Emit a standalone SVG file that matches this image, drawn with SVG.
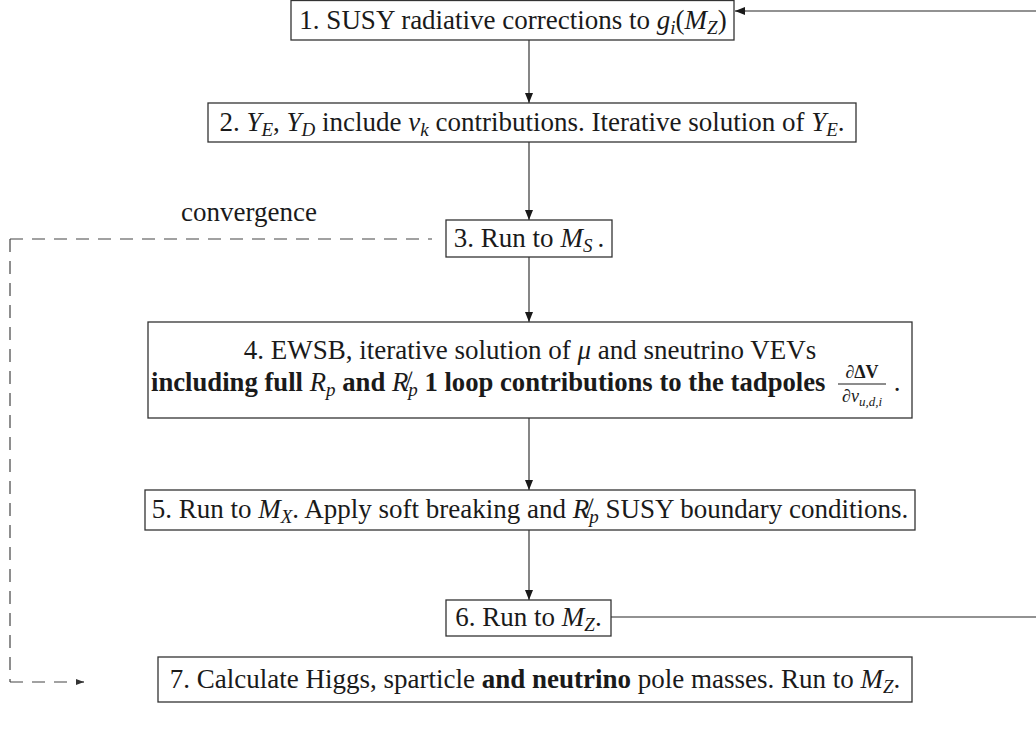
<svg xmlns="http://www.w3.org/2000/svg" width="1036" height="738" viewBox="0 0 1036 738">
<style>
  .box { fill: #ffffff; stroke: #333333; stroke-width: 1.3; }
  .t { font-family: "Liberation Serif", "Times New Roman", serif; font-size: 27px; fill: #1a1a1a; text-anchor: middle; }
  .it { font-style: italic; }
  .b { font-weight: bold; }
  .n { font-weight: normal; }
  .s { font-size: 19px; }
  .conn { stroke: #222222; stroke-width: 1.1; fill: none; }
  .grey { stroke: #6e6e6e; stroke-width: 1.6; fill: none; }
  .dash { stroke: #444444; stroke-width: 1.2; fill: none; stroke-dasharray: 13 9; }
  .lbl { font-family: "Liberation Serif", "Times New Roman", serif; font-size: 27px; fill: #1a1a1a; text-anchor: middle; }
</style>
<defs>
  <marker id="ah" markerUnits="userSpaceOnUse" markerWidth="12" markerHeight="10" refX="10" refY="4" orient="auto">
    <path d="M0,0 L10,4 L0,8 Z" fill="#1a1a1a"/>
  </marker>
  <marker id="ahd" markerUnits="userSpaceOnUse" markerWidth="10" markerHeight="8" refX="8" refY="3" orient="auto">
    <path d="M0,0 L8,3 L0,6 Z" fill="#333333"/>
  </marker>
</defs>
<rect width="1036" height="738" fill="#ffffff"/>

<g id="connectors">
  <line class="conn" x1="529" y1="40" x2="529" y2="103" marker-end="url(#ah)"/>
  <line class="conn" x1="529" y1="142" x2="529" y2="220" marker-end="url(#ah)"/>
  <line class="conn" x1="529" y1="257" x2="529" y2="322" marker-end="url(#ah)"/>
  <line class="conn" x1="529" y1="418" x2="529" y2="490" marker-end="url(#ah)"/>
  <line class="conn" x1="529" y1="530" x2="529" y2="600" marker-end="url(#ah)"/>
  <line class="grey" x1="611" y1="617" x2="1036" y2="617"/>
  <line class="grey" x1="1036" y1="11" x2="746" y2="11"/>
  <line class="conn" x1="746" y1="11" x2="735" y2="11" marker-end="url(#ah)"/>
  <path class="dash" d="M10,239 H432"/>
  <path class="dash" d="M10,239 V682"/>
  <path class="dash" d="M10,682 H73"/>
  <line class="conn" x1="76" y1="682" x2="84" y2="682" marker-end="url(#ahd)"/>
  <text class="lbl" x="249" y="221">convergence</text>
</g>

<g id="node1">
  <rect class="box" x="291" y="0.5" width="443" height="39.5"/>
  <text class="t" x="513" y="29">1. SUSY radiative corrections to <tspan class="it">g</tspan><tspan class="it s" dy="5">i</tspan><tspan dy="-5">(</tspan><tspan class="it">M</tspan><tspan class="it s" dy="5">Z</tspan><tspan dy="-5">)</tspan></text>
</g>

<g id="node2">
  <rect class="box" x="208" y="103" width="648" height="39"/>
  <text class="t" x="532" y="131">2. <tspan class="it">Y</tspan><tspan class="it s" dy="5">E</tspan><tspan dy="-5">, </tspan><tspan class="it">Y</tspan><tspan class="it s" dy="5">D</tspan><tspan dy="-5"> include </tspan><tspan class="it">v</tspan><tspan class="it s" dy="5">k</tspan><tspan dy="-5"> contributions. Iterative solution of </tspan><tspan class="it">Y</tspan><tspan class="it s" dy="5">E</tspan><tspan dy="-5">.</tspan></text>
</g>

<g id="node3">
  <rect class="box" x="446" y="220" width="166" height="37"/>
  <text class="t" x="529" y="247">3. Run to <tspan class="it">M</tspan><tspan class="it s" dy="5">S</tspan><tspan dy="-5" dx="5">.</tspan></text>
</g>

<g id="node4">
  <rect class="box" x="148" y="322" width="764" height="96"/>
  <text class="t" x="530" y="359">4. EWSB, iterative solution of <tspan class="it">μ</tspan> and sneutrino VEVs</text>
  <text class="t b" x="151" y="391" style="text-anchor:start;font-size:26.7px">including full <tspan class="it n">R</tspan><tspan class="it n s" dy="5">p</tspan><tspan dy="-5"> and </tspan><tspan class="it n">R&#x338;</tspan><tspan class="it n s" dy="5">p</tspan><tspan dy="-5"> 1 loop contributions to the tadpoles</tspan></text>
  <text class="t b" x="862" y="378" style="font-size:18px">∂ΔV</text>
  <line x1="838" y1="384" x2="886" y2="384" stroke="#1a1a1a" stroke-width="1"/>
  <text class="t it" x="862" y="402" style="font-size:18px">∂v<tspan style="font-size:13px" dy="4">u,d,i</tspan></text>
  <text class="t" x="897" y="391">.</text>
</g>

<g id="node5">
  <rect class="box" x="145" y="490" width="770" height="40"/>
  <text class="t" x="530" y="518">5. Run to <tspan class="it">M</tspan><tspan class="it s" dy="5">X</tspan><tspan dy="-5">. Apply soft breaking and </tspan><tspan class="it">R&#x338;</tspan><tspan class="it s" dy="5">p</tspan><tspan dy="-5"> SUSY boundary conditions.</tspan></text>
</g>

<g id="node6">
  <rect class="box" x="446" y="600" width="165" height="36"/>
  <text class="t" x="528.5" y="626">6. Run to <tspan class="it">M</tspan><tspan class="it s" dy="5">Z</tspan><tspan dy="-5">.</tspan></text>
</g>

<g id="node7">
  <rect class="box" x="158" y="657" width="754" height="45"/>
  <text class="t" x="535" y="688">7. Calculate Higgs, sparticle <tspan class="b">and neutrino</tspan> pole masses. Run to <tspan class="it">M</tspan><tspan class="it s" dy="5">Z</tspan><tspan dy="-5">.</tspan></text>
</g>
</svg>
